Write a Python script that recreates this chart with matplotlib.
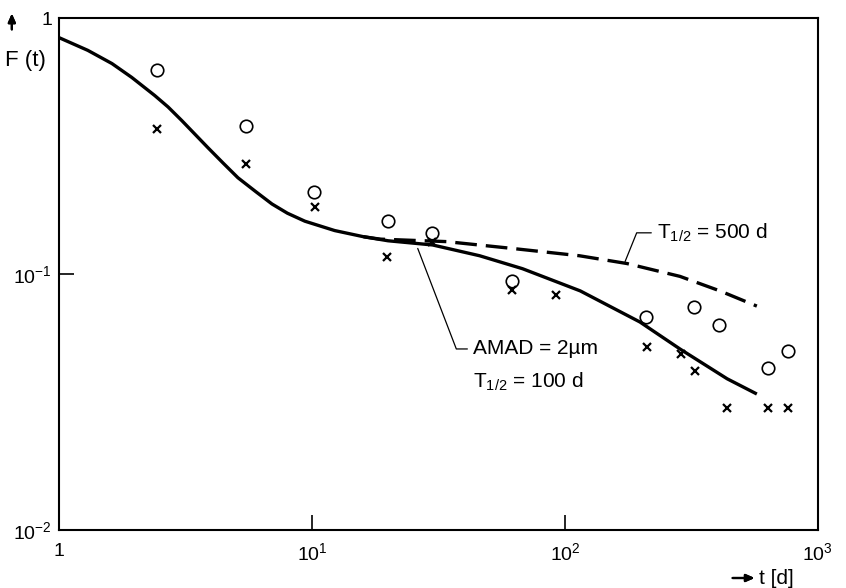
import numpy as np
import matplotlib
matplotlib.use('Agg')
import matplotlib.pyplot as plt

plt.rcParams['font.family'] = ['Liberation Sans', 'DejaVu Sans']
plt.rcParams['mathtext.fontset'] = 'custom'
plt.rcParams['mathtext.rm'] = 'Liberation Sans'
plt.rcParams['mathtext.default'] = 'regular'

# measured points (days, F(t))
t_circ = [2.44, 5.48, 10.2, 20, 29.8, 61.7, 209, 324, 406, 633, 760]
f_circ = [0.63, 0.38, 0.21, 0.161, 0.145, 0.094, 0.068, 0.0745, 0.063, 0.043, 0.050]

t_cross = [2.44, 5.48, 10.3, 19.8, 29.8, 61.7, 92, 211, 289, 326, 438, 633, 760]
f_cross = [0.37, 0.27, 0.183, 0.117, 0.133, 0.087, 0.083, 0.0517, 0.0487, 0.042, 0.030, 0.030, 0.030]

# model curves
t_100 = [1, 1.30, 1.62, 1.94, 2.39, 2.70, 3.06, 3.88, 4.45, 5.10, 6.0, 6.95, 8.0, 9.38,
         12.3, 16, 20, 30, 46, 68, 115, 198, 285, 438, 574]
f_100 = [0.84, 0.749, 0.665, 0.587, 0.499, 0.450, 0.398, 0.312, 0.272, 0.238, 0.210,
         0.188, 0.173, 0.161, 0.148, 0.140, 0.135, 0.130, 0.118, 0.105, 0.086, 0.065,
         0.051, 0.039, 0.034]

t_500 = [16, 18.6, 34, 62, 114, 176, 285, 410, 574]
f_500 = [0.140, 0.137, 0.134, 0.126, 0.118, 0.110, 0.098, 0.086, 0.075]

xtick_vals = [1, 10, 100, 1000]
xtick_labels = ['1', '$10^{1}$', '$10^{2}$', '$10^{3}$']
ytick_vals = [0.01, 0.1, 1]
ytick_labels = ['$10^{-2}$', '$10^{-1}$', '1']

fig = plt.figure(figsize=(8.46, 5.88), dpi=100)
ax = fig.add_axes([0.0697, 0.0986, 0.897, 0.8704])

ax.plot(t_100, f_100, color='k', lw=2.4, solid_capstyle='butt', solid_joinstyle='round')
ax.plot(t_500, f_500, color='k', lw=2.4, dashes=(6.5, 2.7))
ax.plot(t_circ, f_circ, 'o', mfc='none', mec='k', mew=1.2, ms=9)
ax.plot(t_cross, f_cross, 'x', color='k', mew=1.6, ms=6)

ax.set_xscale('log')
ax.set_yscale('log')
ax.set_xlim(1, 1000)
ax.set_ylim(0.01, 1)
ax.minorticks_off()
ax.set_xticks(xtick_vals, xtick_labels)
ax.set_yticks(ytick_vals, ytick_labels)
ax.tick_params(axis='both', direction='in', length=11, width=1.2, labelsize=14)
ax.tick_params(axis='x', pad=9)
ax.tick_params(axis='y', pad=5)
for s in ax.spines.values():
    s.set_linewidth(1.5)

ax.annotate('AMAD = 2µm', xy=(26.2, 0.126), xytext=(43.3, 0.051),
            fontsize=15, ha='left', va='center',
            arrowprops=dict(arrowstyle='-', lw=0.9, color='k', shrinkA=2, shrinkB=0,
                            relpos=(0, 0.5),
                            connectionstyle='angle,angleA=180,angleB=-69,rad=0'))
ax.text(43.3, 0.038, 'T$_{1/2}$ = 100 d', fontsize=15, ha='left', va='center')
ax.annotate('T$_{1/2}$ = 500 d', xy=(173, 0.112), xytext=(231, 0.145),
            fontsize=15, ha='left', va='center',
            arrowprops=dict(arrowstyle='-', lw=0.9, color='k', shrinkA=2, shrinkB=0,
                            relpos=(0, 0.5),
                            connectionstyle='angle,angleA=180,angleB=68,rad=0'))

fig.text(0.006, 0.897, 'F (t)', fontsize=16, ha='left', va='center')
fig.text(0.897, 0.017, 't [d]', fontsize=15, ha='left', va='center')

# axis direction arrows
arrow = dict(arrowstyle='-|>,head_length=0.5,head_width=0.22', lw=1.6, color='k',
             shrinkA=0, shrinkB=0)
fig.add_artist(plt.annotate('', xy=(0.014, 0.977), xytext=(0.014, 0.950),
                            xycoords='figure fraction', textcoords='figure fraction',
                            arrowprops=arrow))
fig.add_artist(plt.annotate('', xy=(0.892, 0.017), xytext=(0.866, 0.017),
                            xycoords='figure fraction', textcoords='figure fraction',
                            arrowprops=arrow))

fig.savefig('out.png', dpi=100)
